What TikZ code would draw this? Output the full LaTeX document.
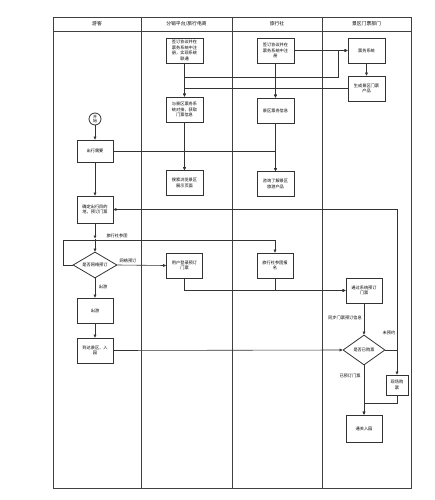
\documentclass[tikz,border=0pt]{standalone}
\usepackage{fontspec}
\setmainfont{Noto Sans CJK SC}
\usetikzlibrary{arrows.meta,shapes.geometric}
\begin{document}
\begin{tikzpicture}[x=1pt,y=-1pt,
  line width=0.6pt, draw=black!80,
  box/.style={draw=black!80,line width=0.8pt,minimum width=37pt,minimum height=25pt,inner sep=0pt,align=center,font=\fontsize{4.2}{5.6}\selectfont},
  dia/.style={draw=black!80,line width=0.8pt,diamond,aspect=1.7,minimum width=44pt,minimum height=26pt,inner sep=0pt,align=center,font=\fontsize{4.2}{5.6}\selectfont},
  arr/.style={draw=black!80,line width=0.6pt,-{Triangle[length=3pt,width=2.8pt]}},
  lab/.style={font=\fontsize{4.2}{5.6}\selectfont,inner sep=0.5pt},
  hdr/.style={font=\fontsize{4.8}{6}\selectfont}]
\useasboundingbox (0,0) rectangle (434,500);
% table
\draw[line width=0.7pt,black!75] (53,17) rectangle (411,488);
\draw[line width=0.7pt,black!75] (53,31) -- (411,31);
\draw[line width=0.7pt,black!75] (141,17) -- (141,488) (232,17) -- (232,488) (322,17) -- (322,488);
\node[hdr] (h1) at (97,24) {游客};
\node[hdr] (h2) at (186.5,24) {分销平台/旅行电商};
\node[hdr] (h3) at (277,24) {旅行社};
\node[hdr] (h4) at (366.5,24) {景区门票部门};
% nodes
\node[box] (p1) at (184.5,50.5) {签订协议并在\\票务系统中注\\册，实现系统\\联通};
\node[box] (t1) at (275.5,50.5) {签订协议并在\\票务系统中注\\册};
\node[box] (s1) at (366.5,50.5) {票务系统};
\node[box] (s2) at (366.5,88.5) {生成景区门票\\产品};
\node[box] (p2) at (184.5,109.5) {与景区票务系\\统对接，获取\\门票信息};
\node[box] (t2) at (275.5,110.5) {景区票务信息};
\node[box] (p3) at (184.5,183) {搜索浏览景区\\展示页面};
\node[box] (t3) at (275.5,184) {咨询了解景区\\旅游产品};
\node[draw=black!80,line width=0.8pt,circle,minimum size=12pt,inner sep=0pt,align=center,font=\fontsize{4}{4.6}\selectfont] (st) at (95,119) {开\\始};
\node[box,minimum width=36pt,minimum height=22pt] (u1) at (95,151) {出行需要};
\node[box,minimum width=36pt,minimum height=27pt] (u2) at (95,209.5) {确定出行目的\\地，预订门票};
\node[dia] (d1) at (95,265) {是否网络预订};
\node[box,minimum width=36pt] (p4) at (184.5,265.5) {用户登录预订\\门票};
\node[box,minimum width=36pt] (t4) at (275,265.5) {旅行社参团报\\名};
\node[box,minimum width=36pt] (u3) at (95,310.5) {出游};
\node[box,minimum width=36pt] (u4) at (95,350.5) {到达景区，入\\园};
\node[box,minimum width=36pt] (s3) at (364,290.5) {通过系统预订\\门票};
\node[dia,minimum width=42pt,minimum height=30pt] (d2) at (364,350) {是否已购票};
\node[box,minimum width=22pt,minimum height=20pt] (s4) at (397,385) {现场购\\票};
\node[box,minimum width=36pt,minimum height=27pt] (s5) at (364,428.5) {通关入园};
% connectors
\draw[arr] (st) -- (u1);
\draw[arr] (u1) -- (u2);
\draw[arr] (u1.east) -| (p3.north);
\draw[arr] (u1.east) -| (t3.north);
\draw[arr] (p1) -- (p2);
\draw[arr] (t1) -- (t2);
\coordinate (c1) at (338,77);
\draw[arr] (p1.south) |- (c1) |- (s1.west);
\draw[arr] (t1.east) -- (s1.west);
\draw[arr] (s1) -- (s2);
\draw[arr] (s2.west) -| (p2.north);
\draw[arr] (s2.west) -| (t2.north);
\draw[arr] (p2) -- (p3);
\draw[arr] (t2) -- (t3);
\coordinate (c0) at (95,238.5);
\draw[arr] (u2) -- (c0);
\draw[arr] (c0) -- (d1);
\coordinate (c2) at (63,240);
\draw[arr] (d1.west) -| (c2) -| (t4.north);
\node[lab] (l1) at (117,235.5) {旅行社参团};
\draw[arr] (d1.east) -- (p4.west);
\node[lab] (l2) at (128,261) {网络预订};
\draw[arr] (d1.south) -- (u3.north);
\node[lab] (l3) at (103,287) {出游};
\draw[arr] (u3) -- (u4);
\draw[arr] (u4.east) -- (d2.west);
\draw[arr] (p4.south) |- (s3.west);
\draw[arr] (t4.south) |- (s3.west);
\draw[arr] (s3) -- (d2);
\node[lab] (l4) at (345,318) {同步门票预订信息};
\coordinate (c3) at (397,209.5);
\draw[arr] (d2.east) -| (c3) -- (u2.east);
\draw[arr] (d2.east) -| (s4.north);
\node[lab] (l5) at (389,333) {未预约};
\draw[arr] (d2.south) -- (s5.north);
\node[lab] (l6) at (350,376) {已预订门票};
\coordinate (c4) at (364,403);
\draw[arr] (s4.south) |- (c4) -- (s5.north);
\end{tikzpicture}
\end{document}
